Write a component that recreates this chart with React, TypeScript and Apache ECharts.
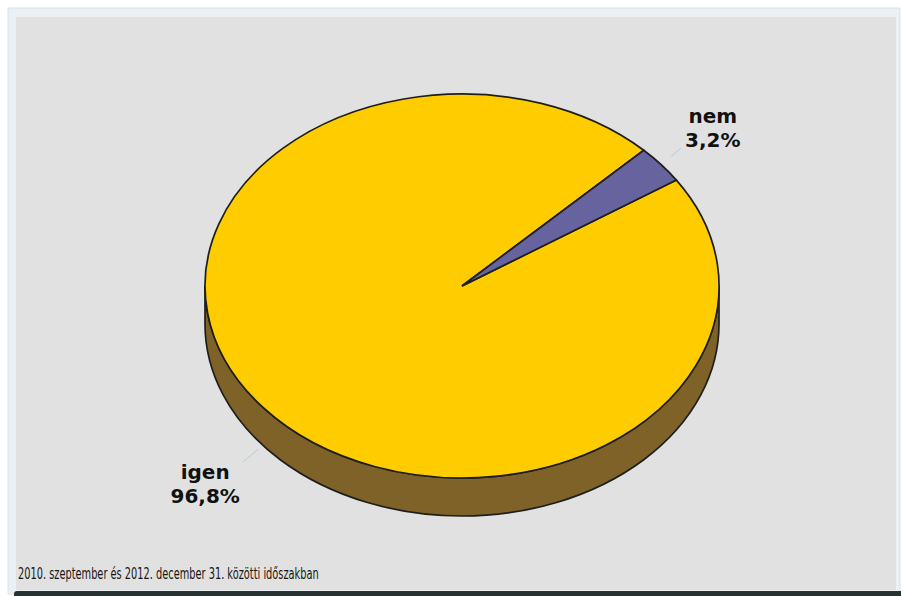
import React, { useEffect, useRef } from "react";
import * as echarts from "echarts";

const categories = ["igen", "nem"];
const values = [96.8, 3.2];
const percentLabels = ["96,8%", "3,2%"];
const topColors = ["#ffcc00", "#67639f"];
const sideColors = ["#7e6228", "#3d3a6a"];
const subtitle = "2010. szeptember és 2012. december 31. közötti időszakban";

// layout of the elliptical pie
const CX = 462;
const CY = 286;
const RX = 257;
const RY = 192;
const DEPTH = 38;
const START_ANGLE = 45; // degrees, math convention
const DRAW_ORDER = [1, 0]; // nem first, clockwise

const total = values.reduce((a, b) => a + b, 0);
const slices: { a1: number; a2: number }[] = [];
{
  let cur = START_ANGLE;
  DRAW_ORDER.forEach((i) => {
    const span = (values[i] / total) * 360;
    slices[i] = { a1: cur - span, a2: cur };
    cur -= span;
  });
}

const rad = (d: number) => (d * Math.PI) / 180;
const pt = (a: number, dy = 0) => [CX + RX * Math.cos(rad(a)), CY - RY * Math.sin(rad(a)) + dy];
const f = (n: number) => n.toFixed(2);

function topPath(a1: number, a2: number) {
  const p1 = pt(a1);
  const p2 = pt(a2);
  const large = a2 - a1 > 180 ? 1 : 0;
  return `M ${f(CX)} ${f(CY)} L ${f(p1[0])} ${f(p1[1])} A ${RX} ${RY} 0 ${large} 0 ${f(p2[0])} ${f(p2[1])} Z`;
}

function sidePaths(a1: number, a2: number) {
  const out: string[] = [];
  for (const k of [-720, -360, 0, 360]) {
    const lo = Math.max(a1, 180 + k);
    const hi = Math.min(a2, 360 + k);
    if (hi - lo > 0.01) {
      const p1 = pt(lo);
      const p2 = pt(hi);
      const q2 = pt(hi, DEPTH);
      const q1 = pt(lo, DEPTH);
      out.push(
        `M ${f(p1[0])} ${f(p1[1])} A ${RX} ${RY} 0 0 0 ${f(p2[0])} ${f(p2[1])} L ${f(q2[0])} ${f(q2[1])} A ${RX} ${RY} 0 0 1 ${f(q1[0])} ${f(q1[1])} Z`
      );
    }
  }
  return out;
}

export default function App() {
  const ref = useRef<HTMLDivElement>(null);
  useEffect(() => {
    if (!ref.current) return;
    const chart = echarts.init(ref.current, null, { renderer: "svg" });
    const option: any = {
      animation: false,
      backgroundColor: "#ffffff",
      graphic: [
        {
          type: "rect",
          z: -10,
          shape: { x: 8, y: 8, width: 892, height: 586 },
          style: { fill: "#eaf0f3", stroke: "#d6e2ea", lineWidth: 1 },
        },
        {
          type: "rect",
          z: -9,
          shape: { x: 16, y: 17, width: 880, height: 573 },
          style: { fill: "#e1e1e1" },
        },
        {
          type: "rect",
          z: -8,
          shape: { x: 14, y: 591, width: 887, height: 5, r: [3, 0, 0, 0] },
          style: { fill: "#273333" },
        },
        {
          type: "text",
          x: 18,
          y: 573,
          scaleX: 0.595,
          style: {
            text: subtitle,
            fill: "#151515",
            fontSize: 16.5,
            fontFamily: "DejaVu Sans",
            verticalAlign: "middle",
            align: "left",
          },
        },
      ],
      series: [
        {
          type: "custom",
          coordinateSystem: "none",
          data: values.map((v, i) => ({ value: [v], name: categories[i] })),
          renderItem: (params: any) => {
            const i = params.dataIndex;
            const { a1, a2 } = slices[i];
            const children: any[] = [];
            sidePaths(a1, a2).forEach((d) => {
              children.push({
                type: "path",
                z2: 1,
                shape: { pathData: d },
                style: { fill: sideColors[i], stroke: "#1e1e1e", lineWidth: 1.7 },
              });
            });
            children.push({
              type: "path",
              z2: 10,
              shape: { pathData: topPath(a1, a2) },
              style: { fill: topColors[i], stroke: "#1e1e1e", lineWidth: 1.7 },
            });
            // label
            const mid = (a1 + a2) / 2;
            const below = Math.sin(rad(mid)) < 0;
            const e = pt(mid, below ? DEPTH : 0);
            const dx = Math.cos(rad(mid));
            const dy = -Math.sin(rad(mid));
            const s0 = below ? 6 : 13;
            children.push({
              type: "line",
              z2: 20,
              shape: { x1: e[0] + dx * s0, y1: e[1] + dy * s0, x2: e[0] + dx * 26, y2: e[1] + dy * 26 },
              style: { stroke: "#b9cad6", lineWidth: 1 },
            });
            const tx = e[0] + dx * 63 + (below ? -9 : 3);
            const ty = e[1] + dy * 63 + (below ? -1 : 3);
            children.push({
              type: "text",
              z2: 20,
              x: tx,
              y: ty,
              style: {
                text: categories[i] + "\n" + percentLabels[i],
                fill: "#111111",
                fontSize: 20,
                fontWeight: "bold",
                fontFamily: "DejaVu Sans",
                lineHeight: 24,
                align: "center",
                verticalAlign: "middle",
              },
            });
            return { type: "group", children };
          },
        },
      ],
    };
    chart.setOption(option);
    return () => chart.dispose();
  }, []);
  return (
    <div
      ref={ref}
      style={{ position: "fixed", left: 0, top: 0, width: 901, height: 596 }}
    />
  );
}
